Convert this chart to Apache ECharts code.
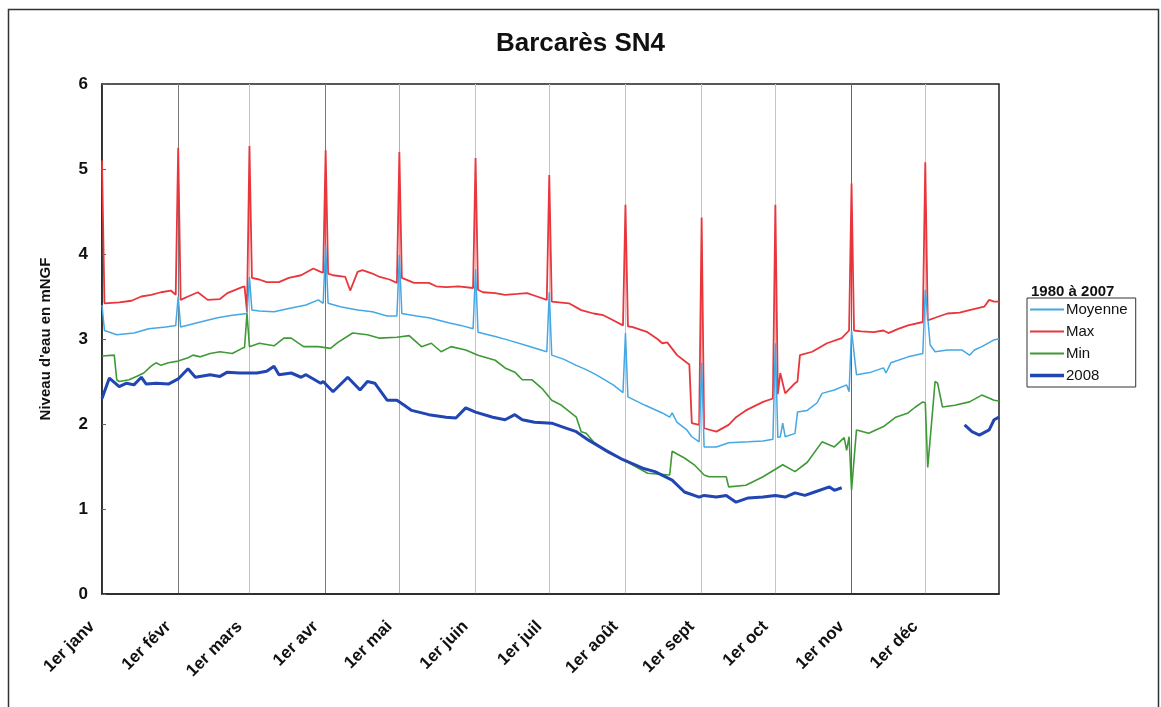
<!DOCTYPE html>
<html>
<head>
<meta charset="utf-8">
<script src="https://cdn.jsdelivr.net/npm/echarts@6/dist/echarts.min.js"></script>
<style>
  html, body { margin: 0; padding: 0; background: #fff; }
  #chart { width: 1161px; height: 707px; }
</style>
</head>
<body>
<div id="chart"></div>
<script>
// months of 2008 (leap year), day index 0 = 1er janv
var monthNames = ['janv', 'févr', 'mars', 'avr', 'mai', 'juin', 'juil', 'août', 'sept', 'oct', 'nov', 'déc'];
var monthDays = [31, 29, 31, 30, 31, 30, 31, 31, 30, 31, 30, 31];

// [day index, niveau mNGF]
var moyenne = [
  [0,3.40],[1,3.10],[6,3.05],[13,3.07],[19,3.12],[26,3.14],[30,3.16],[31,3.50],[32,3.14],[36,3.17],
  [40,3.20],[47,3.25],[53,3.28],[59,3.30],[60,3.73],[61,3.34],[64,3.33],[70,3.32],[76,3.36],[83,3.40],
  [88,3.46],[90,3.42],[91,4.10],[92,3.42],[97,3.38],[104,3.34],[110,3.32],[116,3.27],[120,3.27],[121,3.99],
  [122,3.30],[128,3.27],[133,3.25],[141,3.19],[146,3.16],[151,3.12],[152,3.82],[153,3.08],[160,3.03],[165,2.99],
  [173,2.92],[181,2.85],[182,3.55],[183,2.81],[188,2.76],[193,2.69],[197,2.64],[201,2.58],[208,2.46],[212,2.37],
  [213,3.07],[214,2.32],[221,2.22],[228,2.13],[231,2.08],[232,2.13],[234,2.02],[238,1.93],[240,1.85],[243,1.79],
  [244,2.72],[245,1.73],[250,1.73],[255,1.78],[263,1.79],[269,1.80],[273,1.82],[274,2.95],[275,1.84],[276,1.85],
  [277,2.01],[278,1.85],[282,1.89],[283,2.14],[287,2.16],[291,2.25],[293,2.36],[298,2.40],[303,2.46],[304,2.38],
  [305,3.10],[307,2.58],[313,2.61],[318,2.66],[319,2.60],[321,2.72],[328,2.79],[334,2.83],[335,3.58],[337,2.93],
  [339,2.85],[344,2.87],[350,2.87],[353,2.81],[355,2.87],[358,2.91],[363,2.99],[365,3.00]
];
var max = [
  [0,5.10],[1,3.42],[7,3.43],[12,3.45],[16,3.50],[20,3.52],[24,3.55],[28,3.57],[30,3.52],[31,5.25],
  [32,3.46],[35,3.50],[39,3.55],[43,3.46],[48,3.47],[51,3.54],[57,3.61],[58,3.62],[59,3.32],[60,5.27],
  [61,3.72],[64,3.70],[67,3.67],[72,3.67],[76,3.72],[81,3.75],[86,3.83],[89,3.79],[90,3.78],[91,5.22],
  [92,3.77],[94,3.75],[99,3.73],[101,3.57],[104,3.79],[106,3.81],[110,3.77],[113,3.73],[117,3.70],[120,3.66],
  [121,5.20],[122,3.72],[127,3.66],[133,3.66],[136,3.62],[140,3.61],[145,3.62],[151,3.60],[152,5.13],[153,3.58],
  [155,3.55],[160,3.54],[164,3.52],[169,3.53],[173,3.54],[177,3.50],[181,3.46],[182,4.93],[183,3.44],[190,3.42],
  [195,3.34],[200,3.30],[204,3.28],[208,3.22],[212,3.16],[213,4.58],[214,3.15],[216,3.14],[222,3.08],[226,3.00],
  [228,2.95],[230,2.96],[234,2.81],[238,2.72],[239,2.70],[240,2.01],[243,1.99],[244,4.43],[245,1.95],[250,1.91],
  [255,1.99],[258,2.08],[262,2.16],[269,2.26],[273,2.30],[274,4.58],[275,2.35],[276,2.60],[278,2.36],[282,2.48],
  [283,2.50],[284,2.81],[289,2.85],[295,2.95],[301,3.01],[304,3.10],[305,4.83],[306,3.10],[309,3.09],[314,3.08],
  [318,3.10],[320,3.07],[324,3.12],[328,3.16],[334,3.20],[335,5.08],[336,3.22],[339,3.25],[344,3.30],[349,3.31],
  [353,3.34],[359,3.38],[361,3.46],[363,3.44],[365,3.44]
];
var min = [
  [0,2.80],[5,2.81],[6,2.52],[7,2.50],[11,2.52],[14,2.56],[17,2.60],[20,2.68],[22,2.72],[24,2.69],
  [27,2.72],[31,2.74],[35,2.78],[37,2.81],[40,2.79],[44,2.83],[48,2.85],[53,2.83],[57,2.89],[58,2.90],
  [59,3.30],[60,2.91],[64,2.95],[70,2.92],[74,3.01],[77,3.01],[82,2.91],[88,2.91],[93,2.89],[96,2.96],
  [102,3.07],[108,3.05],[113,3.01],[120,3.02],[125,3.04],[130,2.91],[134,2.95],[138,2.85],[142,2.91],[148,2.87],
  [153,2.81],[160,2.75],[164,2.66],[168,2.61],[171,2.52],[175,2.52],[179,2.42],[183,2.28],[187,2.22],[193,2.08],
  [195,1.91],[197,1.89],[200,1.79],[206,1.66],[214,1.55],[222,1.42],[231,1.40],[232,1.68],[237,1.60],[241,1.52],
  [245,1.40],[247,1.38],[254,1.38],[255,1.26],[262,1.28],[269,1.38],[277,1.52],[282,1.44],[287,1.55],[293,1.79],
  [298,1.73],[302,1.84],[303,1.69],[304,1.85],[305,1.22],[307,1.93],[312,1.89],[318,1.97],[323,2.08],[328,2.13],
  [331,2.20],[334,2.26],[335,2.25],[336,1.49],[339,2.50],[340,2.48],[342,2.20],[347,2.22],[353,2.26],[358,2.34],
  [363,2.28],[365,2.27]
];
var an2008 = [
  [0,2.30],[3,2.54],[7,2.44],[10,2.48],[13,2.46],[16,2.55],[18,2.47],[22,2.48],[27,2.47],[31,2.53],
  [35,2.65],[38,2.55],[44,2.58],[48,2.56],[51,2.61],[56,2.60],[63,2.60],[67,2.62],[70,2.68],[72,2.58],
  [77,2.60],[81,2.55],[83,2.58],[89,2.48],[90,2.50],[94,2.38],[100,2.55],[105,2.40],[108,2.50],[111,2.48],
  [116,2.28],[120,2.28],[123,2.22],[126,2.16],[133,2.11],[140,2.08],[144,2.07],[148,2.19],[152,2.14],[159,2.08],
  [164,2.05],[168,2.11],[171,2.05],[176,2.02],[183,2.01],[187,1.97],[193,1.91],[198,1.81],[205,1.69],[212,1.58],
  [220,1.48],[225,1.44],[232,1.34],[237,1.20],[243,1.14],[245,1.16],[250,1.14],[254,1.16],[258,1.08],[263,1.13],
  [269,1.14],[274,1.16],[278,1.14],[282,1.19],[286,1.16],[290,1.20],[296,1.26],[298,1.22],[301,1.25],[302,null],
  [351,1.99],[354,1.91],[357,1.87],[361,1.93],[363,2.05],[365,2.08]
];

// build day categories
var days = [];
var monthStart = {};
for (var m = 0; m < 12; m++) {
  monthStart[days.length] = true;
  for (var d = 1; d <= monthDays[m]; d++) {
    days.push(d === 1 ? '1er ' + monthNames[m] : d + ' ' + monthNames[m]);
  }
}
function isMonthStart(i) { return !!monthStart[i]; }

// the scanned month lines are not all the same grey
var monthLineColors = ['#888', '#777', '#c4c4c4', '#777', '#b0b0b0', '#c4c4c4', '#c4c4c4', '#c4c4c4', '#c4c4c4', '#c4c4c4', '#666', '#c4c4c4'];

var font = 'Arial, "Liberation Sans", sans-serif';
var thinLine = 'path://M0,0 L32,0 L32,2 L0,2 Z';
var thickLine = 'path://M0,0 L32,0 L32,3.5 L0,3.5 Z';

var chart = echarts.init(document.getElementById('chart'));

var option = {
  animation: false,
  backgroundColor: '#fff',
  title: [
    {
      text: 'Barcarès SN4',
      left: 'center',
      top: 26,
      textStyle: { fontFamily: font, fontSize: 26, fontWeight: 'bold', color: '#111' }
    },
    {
      text: '1980 à 2007',
      left: 1026,
      top: 279,
      textStyle: { fontFamily: font, fontSize: 15, fontWeight: 'bold', color: '#111' }
    }
  ],
  graphic: [
    {
      type: 'rect',
      shape: { x: 8.5, y: 9.5, width: 1150, height: 720 },
      style: { fill: 'none', stroke: '#333', lineWidth: 1.5 },
      silent: true
    }
  ],
  legend: {
    left: 1027,
    top: 298,
    orient: 'vertical',
    itemWidth: 34,
    itemHeight: 14,
    itemGap: 7,
    padding: [4, 8, 4, 3],
    borderColor: '#333',
    borderWidth: 1,
    textStyle: { fontFamily: font, fontSize: 15, color: '#111', padding: [0, 0, 0, -3] },
    data: [
      { name: 'Moyenne', icon: thinLine },
      { name: 'Max', icon: thinLine },
      { name: 'Min', icon: thinLine },
      { name: '2008', icon: thickLine }
    ]
  },
  grid: {
    left: 102,
    top: 84,
    right: 162,
    bottom: 113,
    show: true,
    borderColor: '#222',
    borderWidth: 1.5
  },
  xAxis: {
    type: 'category',
    data: days,
    boundaryGap: false,
    axisLine: { lineStyle: { color: '#222', width: 1.5 } },
    axisTick: { show: false },
    axisLabel: {
      interval: isMonthStart,
      rotate: 45,
      margin: 20,
      padding: [0, 14, 0, 0],
      fontFamily: font,
      fontSize: 17,
      fontWeight: 'bold',
      color: '#111'
    },
    splitLine: {
      show: true,
      interval: isMonthStart,
      lineStyle: { color: monthLineColors, width: 1 }
    }
  },
  yAxis: {
    type: 'value',
    min: 0,
    max: 6,
    interval: 1,
    name: "Niveau d'eau en mNGF",
    nameLocation: 'middle',
    nameGap: 49,
    nameTextStyle: { fontFamily: font, fontSize: 15, fontWeight: 'bold', color: '#111' },
    axisLine: { show: true, lineStyle: { color: '#222', width: 1.5 } },
    axisTick: { show: true, inside: true, length: 4, lineStyle: { color: '#666' } },
    axisLabel: { margin: 14, fontFamily: font, fontSize: 17, fontWeight: 'bold', color: '#111' },
    splitLine: { show: false }
  },
  series: [
    {
      name: 'Moyenne', type: 'line', data: moyenne, symbol: 'none',
      itemStyle: { color: '#45a8e4' }, lineStyle: { color: '#45a8e4', width: 1.5 }, z: 3
    },
    {
      name: 'Max', type: 'line', data: max, symbol: 'none',
      itemStyle: { color: '#e8363c' }, lineStyle: { color: '#e8363c', width: 1.8 }, z: 2
    },
    {
      name: 'Min', type: 'line', data: min, symbol: 'none',
      itemStyle: { color: '#3e9a35' }, lineStyle: { color: '#3e9a35', width: 1.6 }, z: 3
    },
    {
      name: '2008', type: 'line', data: an2008, symbol: 'none', connectNulls: false,
      itemStyle: { color: '#2145b2' }, lineStyle: { color: '#2145b2', width: 3 }, z: 4
    }
  ]
};

chart.setOption(option);
</script>
</body>
</html>
